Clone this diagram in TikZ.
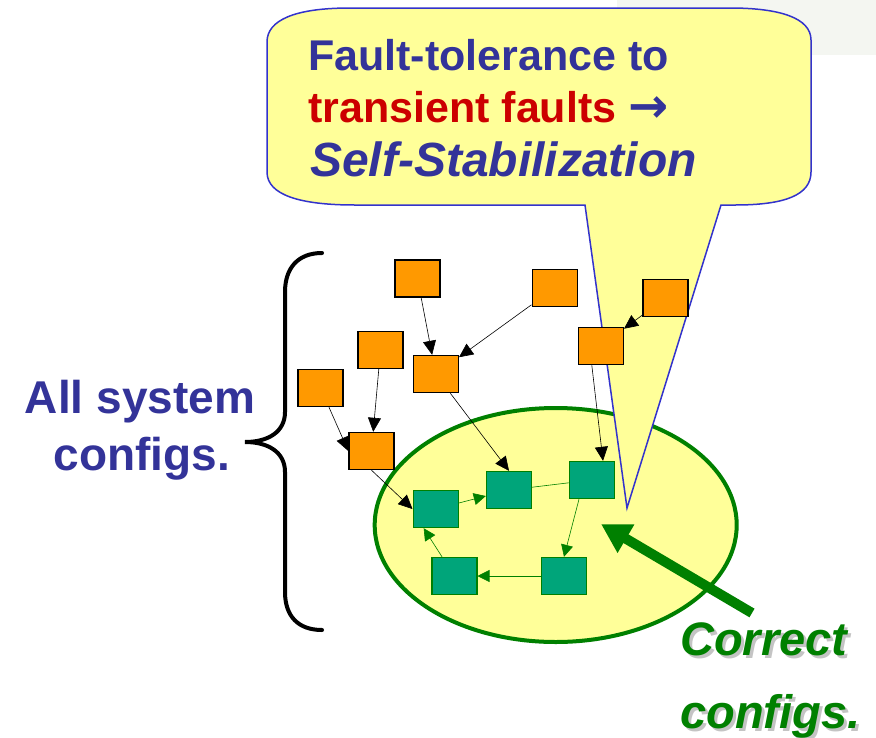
\documentclass[tikz,border=0pt]{standalone}
\usepackage{fontspec}
\setmainfont{Liberation Sans}
\newfontfamily\symfont{DejaVu Sans}
\usepackage{tikz}
\usetikzlibrary{arrows.meta}
\definecolor{myblue}{RGB}{51,51,153}
\definecolor{myred}{RGB}{204,0,0}
\definecolor{mygreen}{RGB}{0,128,0}
\definecolor{myteal}{RGB}{0,165,122}
\definecolor{myorange}{RGB}{255,153,0}
\definecolor{myyellow}{RGB}{255,255,153}
\definecolor{myline}{RGB}{51,51,204}
\definecolor{myshadow}{RGB}{196,196,196}
\definecolor{mybg}{RGB}{244,246,241}
\tikzset{
  badnode/.style={rectangle, draw=black, fill=myorange,
    minimum width=45pt, minimum height=37pt, inner sep=0pt, line width=1.4pt},
  goodnode/.style={rectangle, draw=mygreen, fill=myteal,
    minimum width=45pt, minimum height=37pt, inner sep=0pt, line width=1.4pt},
  arrow/.style={-{Triangle[length=14pt, width=13pt]}, line width=0.6pt, color=black},
  greenarrow/.style={-{Triangle[length=12pt, width=12pt]}, line width=0.6pt, color=mygreen},
  greenline/.style={line width=0.6pt, color=mygreen},
  bigarrow/.style={-{Triangle[length=29pt, width=31pt]}, line width=10pt, color=mygreen},
  calltext/.style={font=\fontsize{43}{52}\selectfont\bfseries, inner sep=0pt, anchor=base west},
  sidetext/.style={font=\fontsize{46}{56}\selectfont\bfseries, inner sep=0pt, anchor=base,
    color=myblue},
  corrtext/.style={font=\fontsize{47}{56}\selectfont\bfseries\itshape, inner sep=0pt,
    anchor=base west}
}

\begin{document}
\begin{tikzpicture}[x=1pt, y=-1pt]
  \useasboundingbox (0,0) rectangle (876,737);
  \fill[mybg] (617,0) rectangle (876,55);
  % Correct configurations
  \draw[mygreen, line width=4pt, fill=myyellow] (555.7,525) ellipse [x radius=181pt, y radius=117pt];
  % Callout with its tail
  \draw[myline, line width=1.5pt, fill=myyellow] (585,205) -- (627,508) -- (721,205) -- (735,205)
    .. controls (785,205) and (811,195) .. (811,172) -- (811,40)
    .. controls (811,18) and (780,8) .. (730,8) -- (350,8)
    .. controls (295,8) and (267,20) .. (267,42) -- (267,172)
    .. controls (267,195) and (300,205) .. (355,205) -- cycle;
  \node[calltext, myblue] (ft1) at (308,70) {Fault-tolerance to};
  \node[calltext, myred] (ft2) at (308,122) {transient faults
    {\symfont\fontsize{48}{52}\selectfont\color{myblue}→}};
  \node[calltext, myblue, font=\fontsize{48}{56}\selectfont\bfseries\itshape] (ft3) at (310,176) {Self-Stabilization};
  % All configurations
  \draw[line width=4pt, line cap=round] (322,253) .. controls (298,253) and (285,268) .. (285,292)
    -- (285,412) .. controls (285,432) and (268,442) .. (245,442)
    .. controls (268,442) and (285,452) .. (285,472) -- (285,592)
    .. controls (285,616) and (298,630) .. (322,630);
  \node[sidetext] (all1) at (140,413) {All system};
  \node[sidetext] (all2) at (142,470) {configs.};
  % Orange configurations
  \node[badnode] (o1) at (417.5,278.5) {};
  \node[badnode] (o2) at (554.7,288) {};
  \node[badnode] (o3) at (665.3,298) {};
  \node[badnode] (o4) at (380.5,350) {};
  \node[badnode] (o5) at (435.8,374) {};
  \node[badnode] (o6) at (600.8,346) {};
  \node[badnode] (o7) at (320.5,388) {};
  \node[badnode] (o8) at (371.5,451) {};
  % Green configurations
  \node[goodnode] (g1) at (435.7,509) {};
  \node[goodnode] (g2) at (509,490) {};
  \node[goodnode] (g3) at (592,480) {};
  \node[goodnode] (g4) at (454.3,576) {};
  \node[goodnode] (g5) at (564,576) {};
  % Transitions
  \draw[arrow] (o1) -- (o5);
  \draw[arrow] (o2) -- (o5);
  \draw[arrow] (o3) -- (o6);
  \draw[arrow] (o4) -- (o8);
  \draw[arrow] (o7) -- (o8.west);
  \draw[arrow] (o8.south) -- (g1.west);
  \draw[arrow] (o5) -- (g2.north);
  \draw[arrow] ([xshift=-9pt]o6.south) -- ([xshift=11pt]g3.north);
  \draw[greenarrow] (g1) -- (g2);
  \draw[greenline] (g3) -- (g2);
  \draw[greenarrow] ([xshift=-13pt]g3.south) -- (g5.north);
  \draw[greenarrow] (g5) -- (g4);
  \draw[greenarrow] (g4) -- ([xshift=-12pt]g1.south);
  % Pointer to correct configurations
  \coordinate (aimstart) at (752,613);
  \coordinate (aim) at (601,524);
  \draw[bigarrow] (aimstart) -- (aim);
  \node[corrtext, myshadow] at (683,658) {Correct};
  \node[corrtext, mygreen] (corr1) at (680,655) {Correct};
  \node[corrtext, myshadow] at (683,731) {configs.};
  \node[corrtext, mygreen] (corr2) at (680,728) {configs.};
\end{tikzpicture}
\end{document}
